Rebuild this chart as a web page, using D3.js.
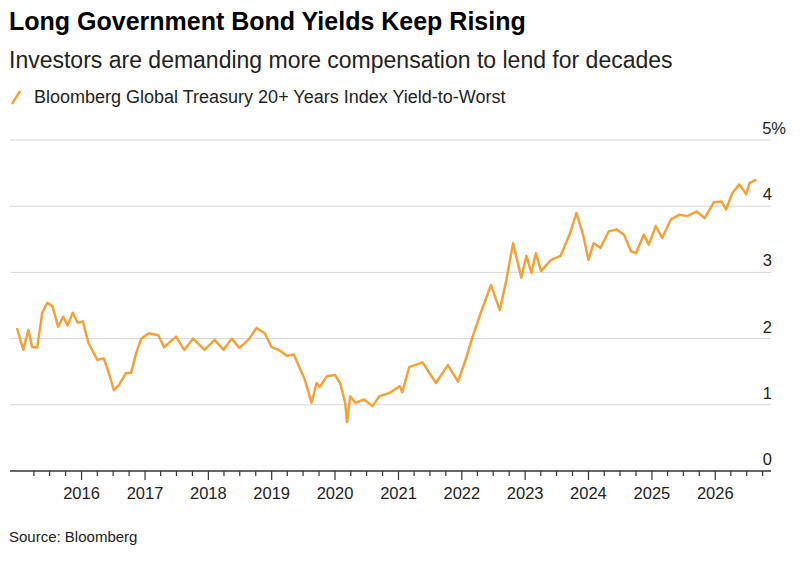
<!DOCTYPE html>
<html>
<head>
<meta charset="utf-8">
<script src="https://cdn.jsdelivr.net/npm/d3@7"></script>
<style>
  body { margin: 0; background: #fff; font-family: "Liberation Sans", Arial, sans-serif; }
</style>
</head>
<body>
<svg id="chart" width="800" height="562"></svg>
<script>
// decimal-year positions, with the yield at each
var years = [2014.98, 2015.08, 2015.16, 2015.22, 2015.30, 2015.38, 2015.46, 2015.54, 2015.63, 2015.71, 2015.78, 2015.86, 2015.94,
  2016.02, 2016.11, 2016.25, 2016.35, 2016.43, 2016.51, 2016.59, 2016.70, 2016.78, 2016.86, 2016.94,
  2017.06, 2017.21, 2017.30, 2017.49, 2017.62, 2017.76, 2017.94,
  2018.10, 2018.24, 2018.37, 2018.49, 2018.63, 2018.76, 2018.89,
  2019.00, 2019.11, 2019.24, 2019.35, 2019.44, 2019.52, 2019.63, 2019.71, 2019.76, 2019.87,
  2020.00, 2020.08, 2020.16, 2020.19, 2020.24, 2020.32, 2020.46, 2020.59, 2020.70, 2020.86,
  2021.02, 2021.06, 2021.17, 2021.38, 2021.59, 2021.78, 2021.94,
  2022.06, 2022.17, 2022.30, 2022.46, 2022.60, 2022.70, 2022.81, 2022.94,
  2023.02, 2023.10, 2023.17, 2023.25, 2023.41, 2023.56, 2023.71, 2023.81, 2023.92,
  2024.00, 2024.08, 2024.19, 2024.32, 2024.44, 2024.56, 2024.67, 2024.75, 2024.87, 2024.95,
  2025.06, 2025.16, 2025.30, 2025.43, 2025.56, 2025.71, 2025.83, 2025.98,
  2026.10, 2026.17, 2026.27, 2026.38, 2026.49, 2026.54, 2026.65];
var yields = [2.16, 1.83, 2.13, 1.87, 1.87, 2.39, 2.54, 2.49, 2.18, 2.33, 2.20, 2.39, 2.24,
  2.26, 1.93, 1.68, 1.70, 1.48, 1.22, 1.30, 1.48, 1.48, 1.78, 2.00,
  2.08, 2.05, 1.87, 2.03, 1.83, 2.00, 1.83,
  1.98, 1.83, 2.00, 1.86, 1.98, 2.16, 2.08,
  1.87, 1.83, 1.74, 1.76, 1.56, 1.39, 1.03, 1.33, 1.27, 1.43,
  1.45, 1.33, 1.03, 0.74, 1.13, 1.03, 1.08, 0.98, 1.13, 1.18,
  1.28, 1.19, 1.57, 1.64, 1.33, 1.60, 1.35,
  1.68, 2.03, 2.39, 2.81, 2.43, 2.87, 3.44, 2.92,
  3.25, 2.99, 3.29, 3.02, 3.19, 3.25, 3.59, 3.90, 3.55,
  3.19, 3.44, 3.37, 3.62, 3.65, 3.57, 3.32, 3.29, 3.57, 3.42,
  3.70, 3.52, 3.80, 3.87, 3.85, 3.92, 3.82, 4.06,
  4.07, 3.95, 4.20, 4.33, 4.18, 4.35, 4.40];
var yTicks = [0, 1, 2, 3, 4, 5];
var yearLabels = [2016, 2017, 2018, 2019, 2020, 2021, 2022, 2023, 2024, 2025, 2026];

var orange = "#f2a23a";

function toDate(y) {
  var yr = Math.floor(y);
  var start = new Date(yr, 0, 1), end = new Date(yr + 1, 0, 1);
  return new Date(+start + (y - yr) * (end - start));
}

var svg = d3.select("#chart");
var plotLeft = 10, plotRight = 771, plotTop = 140, plotBottom = 471;

var x = d3.scaleTime()
  .domain([toDate(2014.87), toDate(2026.88)])
  .range([plotLeft, plotRight]);
var y = d3.scaleLinear().domain([0, 5]).range([plotBottom, plotTop]);

// titles
svg.append("text").attr("x", 9).attr("y", 30)
  .style("font-size", "25px").style("font-weight", "bold").attr("fill", "#000")
  .text("Long Government Bond Yields Keep Rising");
svg.append("text").attr("x", 9).attr("y", 68)
  .style("font-size", "23px").attr("fill", "#222")
  .text("Investors are demanding more compensation to lend for decades");
svg.append("line").attr("x1", 12).attr("y1", 104).attr("x2", 20).attr("y2", 91)
  .attr("stroke", orange).attr("stroke-width", 2.5);
svg.append("text").attr("x", 34).attr("y", 103)
  .style("font-size", "18px").attr("fill", "#222")
  .text("Bloomberg Global Treasury 20+ Years Index Yield-to-Worst");

// grid
svg.append("g").selectAll("line")
  .data(yTicks.filter(function(d) { return d > 0; }))
  .enter().append("line")
  .attr("x1", plotLeft).attr("x2", plotRight)
  .attr("y1", function(d) { return y(d); }).attr("y2", function(d) { return y(d); })
  .attr("stroke", "#d6d6d6").attr("stroke-width", 1);

svg.append("g").selectAll("text")
  .data(yTicks)
  .enter().append("text")
  .attr("x", function(d) { return d === 5 ? 786 : 772; })
  .attr("y", function(d) { return y(d) - 6; })
  .attr("text-anchor", "end")
  .style("font-size", "16.5px").attr("fill", "#222")
  .text(function(d) { return d === 5 ? "5%" : d; });

// x axis
var quarters = d3.timeMonth.every(3).range(toDate(2015.2), toDate(2026.9));
var xAxis = svg.append("g").attr("transform", "translate(0," + plotBottom + ")");
xAxis.append("line").attr("x1", plotLeft).attr("x2", plotRight).attr("stroke", "#333").attr("stroke-width", 1.5);
xAxis.selectAll("line.tick")
  .data(quarters)
  .enter().append("line").attr("class", "tick")
  .attr("x1", function(d) { return x(d); }).attr("x2", function(d) { return x(d); })
  .attr("y1", 0).attr("y2", function(d) { return d.getMonth() === 0 ? 9 : 5; })
  .attr("stroke", "#333").attr("stroke-width", 1.2);
xAxis.selectAll("text")
  .data(yearLabels)
  .enter().append("text")
  .attr("x", function(d) { return x(new Date(d, 0, 1)); })
  .attr("y", 28)
  .attr("text-anchor", "middle")
  .style("font-size", "16.5px").attr("fill", "#222")
  .text(function(d) { return d; });

// line
var pts = years.map(function(d, i) { return [toDate(d), yields[i]]; });
svg.append("path")
  .datum(pts)
  .attr("d", d3.line().x(function(d) { return x(d[0]); }).y(function(d) { return y(d[1]); }))
  .attr("fill", "none").attr("stroke", orange).attr("stroke-width", 2.5)
  .attr("stroke-linejoin", "round");

svg.append("text").attr("x", 9).attr("y", 542)
  .style("font-size", "15px").attr("fill", "#222")
  .text("Source: Bloomberg");
</script>
</body>
</html>
